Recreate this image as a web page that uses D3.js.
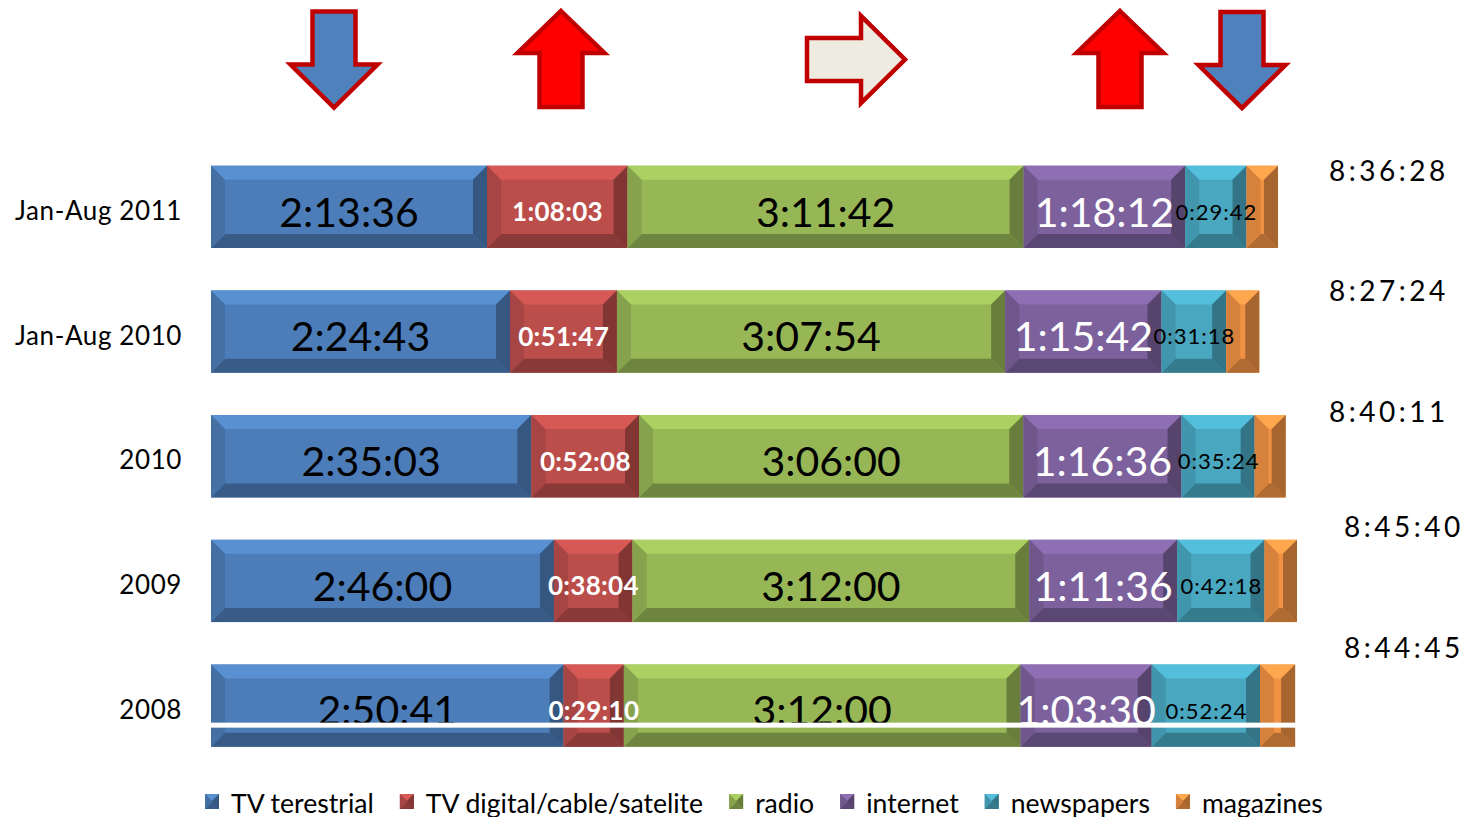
<!DOCTYPE html>
<html>
<head>
<meta charset="utf-8">
<script src="https://cdn.jsdelivr.net/npm/d3@7"></script>
<style>
  html, body { margin: 0; padding: 0; background: #ffffff; overflow: hidden; }
  svg { display: block; font-family: Lato, "Open Sans", sans-serif; }
</style>
</head>
<body>
<svg id="chart" width="1470" height="817"></svg>
<script>
// ---------------- data ----------------
const categories = ["Jan-Aug 2011", "Jan-Aug 2010", "2010", "2009", "2008"];
const seriesNames = ["TV terestrial", "TV digital/cable/satelite", "radio", "internet", "newspapers", "magazines"];
const tvTerrestrial = ["2:13:36", "2:24:43", "2:35:03", "2:46:00", "2:50:41"];
const tvDigital     = ["1:08:03", "0:51:47", "0:52:08", "0:38:04", "0:29:10"];
const radio         = ["3:11:42", "3:07:54", "3:06:00", "3:12:00", "3:12:00"];
const internet      = ["1:18:12", "1:15:42", "1:16:36", "1:11:36", "1:03:30"];
const newspapers    = ["0:29:42", "0:31:18", "0:35:24", "0:42:18", "0:52:24"];
const magazines     = ["0:15:13", "0:16:00", "0:15:00", "0:15:42", "0:17:00"]; // estimated (unlabelled)
const totals        = ["8:36:28", "8:27:24", "8:40:11", "8:45:40", "8:44:45"];
const trends        = ["down", "up", "flat", "up", "down"]; // trend arrows for the first five series

// ---------------- styles / layout ----------------
const colors = ["#4F81BD", "#C0504D", "#9BBB59", "#8064A2", "#4BACC6", "#F79646"];
const labelStyle = [
  { size: 41, weight: 400, fill: "#000", ls: 0 },
  { size: 26, weight: 700, fill: "#fff", ls: 0.3 },
  { size: 41, weight: 400, fill: "#000", ls: 0 },
  { size: 41, weight: 400, fill: "#fff", ls: 0 },
  { size: 22, weight: 400, fill: "#000", ls: 1 },
  null
];
const totalPos = [ { x: 1329, dy: -26 }, { x: 1329, dy: -31 }, { x: 1329, dy: -34 }, { x: 1344, dy: -44 }, { x: 1344, dy: -48 } ];
const arrowPos = [ { cx: 334, cy: 59.5 }, { cx: 561, cy: 59 }, { cx: 856, cy: 59.5 }, { cx: 1120, cy: 59 }, { cx: 1242, cy: 60 } ];

const toSec = s => { const p = s.split(":").map(Number); return p[0] * 3600 + p[1] * 60 + p[2]; };
const seriesArrays = [tvTerrestrial, tvDigital, radio, internet, newspapers, magazines];
const table = categories.map((c, i) => {
  const row = { category: c };
  seriesNames.forEach((s, j) => { row[s] = toSec(seriesArrays[j][i]); row[s + "_label"] = seriesArrays[j][i]; });
  return row;
});
const totalSec = totals.map(toSec);

const svg = d3.select("#chart");

const x = d3.scaleLinear().domain([0, d3.max(totalSec)]).range([211, 1297]);
const y = d3.scaleBand().domain(categories).range([144.5, 768]).paddingInner(0.34).paddingOuter(0.17);

const stack = d3.stack().keys(seriesNames);
const stacked = stack(table);

function bevel(g, x0, x1, y0, y1, base, maxB) {
  const w = x1 - x0, h = y1 - y0;
  const b = Math.min(maxB, w / 2, h / 2);
  const c = d3.color(base).darker(0.08);
  const top = d3.color(base).brighter(0.3);
  const left = d3.color(base).darker(0.4);
  const right = d3.color(base).darker(1.1);
  const bottom = d3.color(base).darker(0.95);
  const poly = (pts, fill) => g.append("polygon").attr("points", pts.map(p => p.join(",")).join(" ")).attr("fill", fill);
  g.append("rect").attr("x", x0).attr("y", y0).attr("width", w).attr("height", h).attr("fill", c);
  poly([[x0, y0], [x1, y0], [x1 - b, y0 + b], [x0 + b, y0 + b]], top);
  poly([[x0, y1], [x1, y1], [x1 - b, y1 - b], [x0 + b, y1 - b]], bottom);
  poly([[x0, y0], [x0 + b, y0 + b], [x0 + b, y1 - b], [x0, y1]], left);
  poly([[x1, y0], [x1 - b, y0 + b], [x1 - b, y1 - b], [x1, y1]], right);
}

// bars
const barsG = svg.append("g");
stacked.forEach((layer, si) => {
  layer.forEach(d => {
    const g = barsG.append("g");
    bevel(g, x(d[0]), x(d[1]), y(d.data.category), y(d.data.category) + y.bandwidth(), colors[si], 14);
  });
});

// segment labels
const labG = svg.append("g");
stacked.forEach((layer, si) => {
  const st = labelStyle[si];
  if (!st) return;
  layer.forEach(d => {
    const cy = y(d.data.category) + y.bandwidth() / 2;
    labG.append("text")
      .attr("x", (x(d[0]) + x(d[1])) / 2 + st.ls / 2)
      .attr("y", cy + 5 + 0.36 * st.size)
      .attr("text-anchor", "middle")
      .attr("font-size", st.size)
      .attr("font-weight", st.weight)
      .attr("letter-spacing", st.ls)
      .attr("fill", st.fill)
      .text(d.data[layer.key + "_label"]);
  });
});

// white line artefact across last bar
const lastCat = categories[categories.length - 1];
svg.append("rect")
  .attr("x", x(0)).attr("width", x(d3.max(totalSec)) - x(0))
  .attr("y", y(lastCat) + y.bandwidth() / 2 + 17).attr("height", 5)
  .attr("fill", "#fff");

// category labels
svg.append("g").selectAll("text").data(categories).join("text")
  .attr("x", 182)
  .attr("y", d => y(d) + y.bandwidth() / 2 + 13)
  .attr("text-anchor", "end")
  .attr("font-size", 26)
  .attr("letter-spacing", 0.6)
  .attr("fill", "#000")
  .text(d => d);

// totals
svg.append("g").selectAll("text").data(totals).join("text")
  .attr("x", (d, i) => totalPos[i].x)
  .attr("y", (d, i) => y(categories[i]) + y.bandwidth() / 2 + totalPos[i].dy)
  .attr("font-size", 28)
  .attr("letter-spacing", 3.5)
  .attr("fill", "#000")
  .text(d => d);

// trend arrows
function arrowPts(type, cx, cy) {
  const sh = 21.5, hh = 43.5, half = 48;
  if (type === "down") return [[cx - sh, cy - half], [cx + sh, cy - half], [cx + sh, cy + 5], [cx + hh, cy + 5], [cx, cy + half], [cx - hh, cy + 5], [cx - sh, cy + 5]];
  if (type === "up") return [[cx, cy - half], [cx + hh, cy - 6], [cx + sh, cy - 6], [cx + sh, cy + half], [cx - sh, cy + half], [cx - sh, cy - 6], [cx - hh, cy - 6]];
  return [[cx - 49, cy - sh], [cx + 5, cy - sh], [cx + 5, cy - hh], [cx + 49, cy], [cx + 5, cy + hh], [cx + 5, cy + sh], [cx - 49, cy + sh]];
}
const arrowFill = { down: "#4F81BD", up: "#FF0000", flat: "#EEECE1" };
svg.append("g").selectAll("polygon").data(trends).join("polygon")
  .attr("points", (d, i) => arrowPts(d, arrowPos[i].cx, arrowPos[i].cy).map(p => p.join(",")).join(" "))
  .attr("fill", d => arrowFill[d])
  .attr("stroke", "#C00000")
  .attr("stroke-width", 4.5)
  .attr("stroke-linejoin", "miter");

// legend
const legG = svg.append("g");
let lx = 205;
seriesNames.forEach((s, i) => {
  const g = legG.append("g");
  bevel(g, lx, lx + 14, 794, 809, colors[i], 7);
  const t = g.append("text").attr("x", lx + 26).attr("y", 813).attr("font-size", 26.6).attr("fill", "#000").text(s);
  lx = lx + 26 + t.node().getComputedTextLength() + 26;
});
</script>
</body>
</html>
